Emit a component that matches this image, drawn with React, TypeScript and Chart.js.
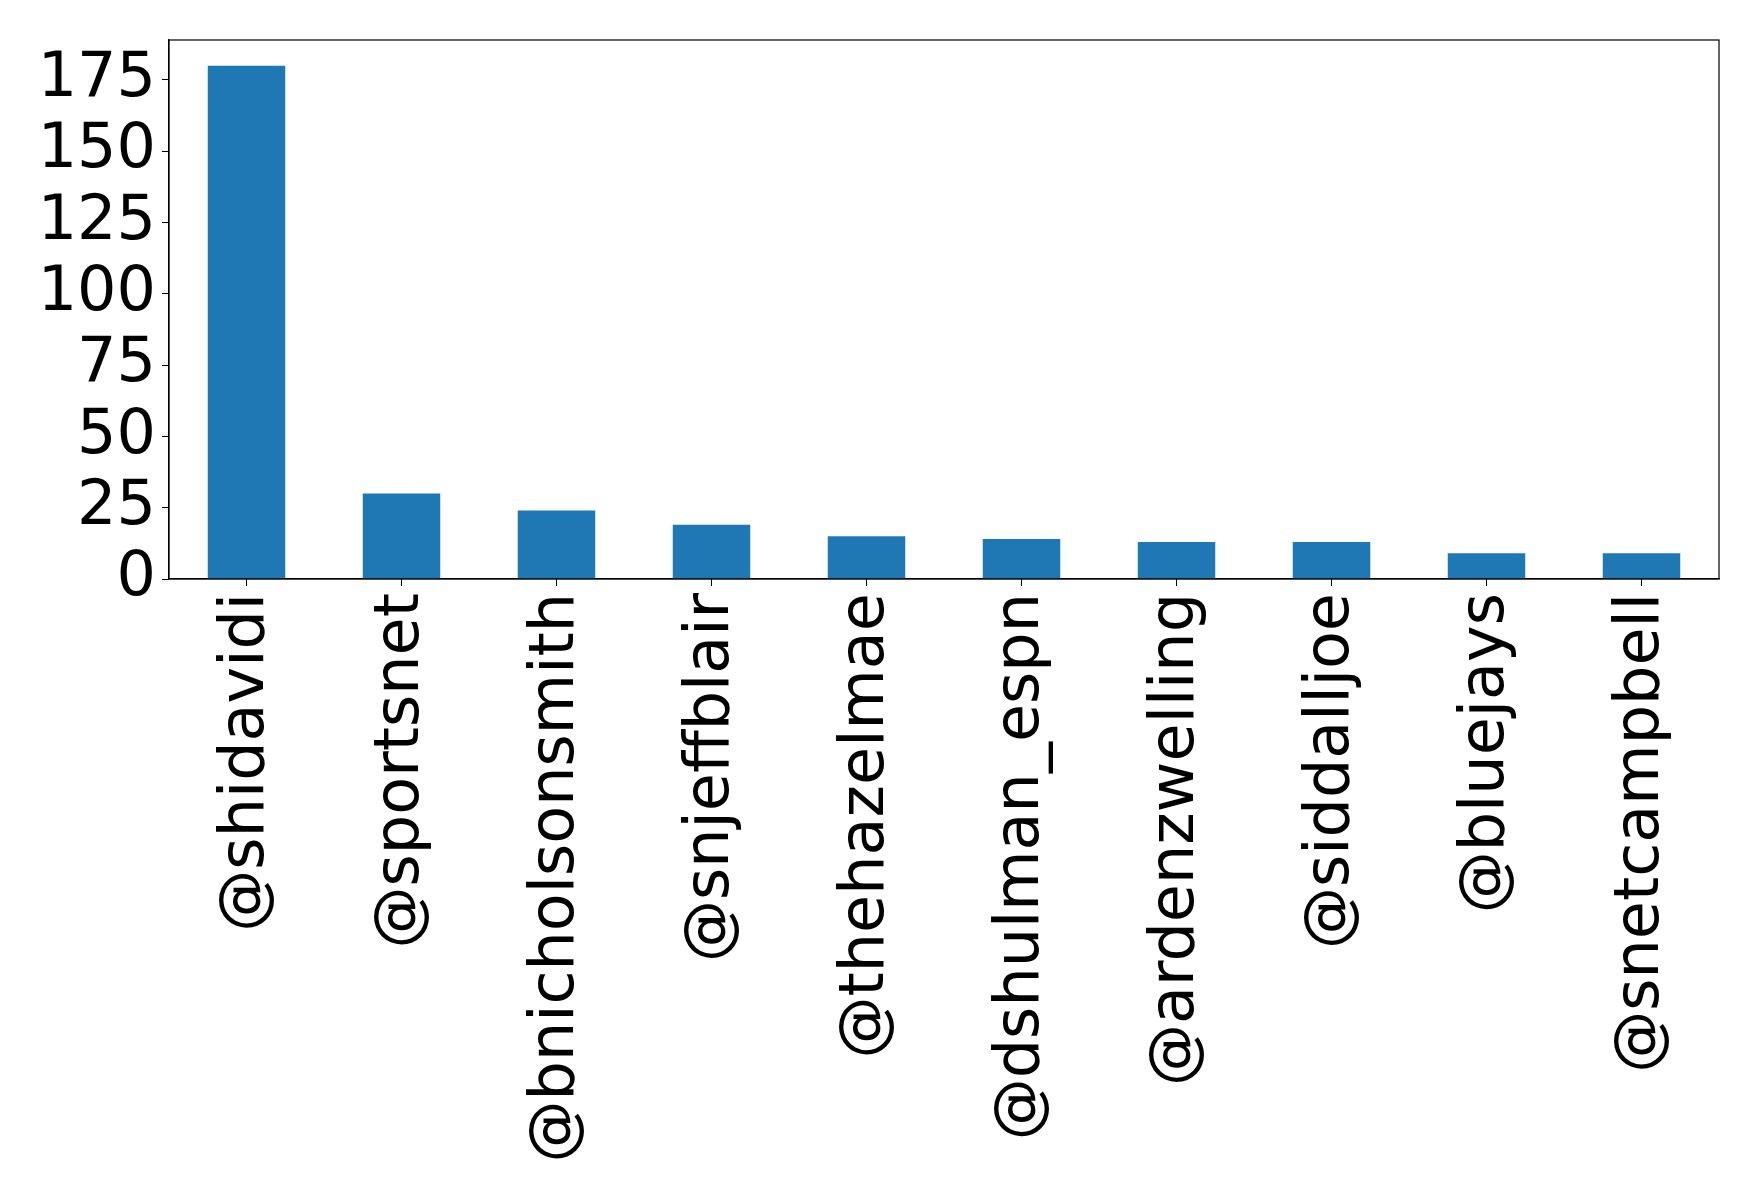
import React, { useEffect, useRef } from "react";
import { Chart, registerables } from "chart.js";

Chart.register(...registerables);

const handles = [
  "@shidavidi",
  "@sportsnet",
  "@bnicholsonsmith",
  "@snjeffblair",
  "@thehazelmae",
  "@dshulman_espn",
  "@ardenzwelling",
  "@siddalljoe",
  "@bluejays",
  "@snetcampbell",
];

const mentionCounts = [180, 30, 24, 19, 15, 14, 13, 13, 9, 9];

const yTicks = [0, 25, 50, 75, 100, 125, 150, 175];

const W = 1758;
const H = 1202;
const FONT = { family: "'DejaVu Sans', sans-serif", size: 62 };

// Draws the full box around the plot area.
const frame = {
  id: "frame",
  afterDraw(chart: any) {
    const { ctx, chartArea } = chart;
    ctx.save();
    ctx.strokeStyle = "#000";
    ctx.lineWidth = 1.2;
    ctx.strokeRect(chartArea.left, chartArea.top, chartArea.right - chartArea.left, chartArea.bottom - chartArea.top);
    ctx.restore();
  },
};

export default function App() {
  const ref = useRef<HTMLCanvasElement>(null);

  useEffect(() => {
    document.body.style.margin = "0";
    const chart = new Chart(ref.current!, {
      type: "bar",
      data: {
        labels: handles,
        datasets: [
          {
            data: mentionCounts,
            backgroundColor: "#1f77b4",
            barPercentage: 0.5,
            categoryPercentage: 1,
          },
        ],
      },
      options: {
        responsive: false,
        animation: false,
        layout: { padding: { top: 40, right: 39, left: 0, bottom: 0 } },
        plugins: { legend: { display: false }, tooltip: { enabled: false } },
        scales: {
          x: {
            grid: { display: true, offset: false, drawOnChartArea: false, drawTicks: true, tickLength: 7, color: "#000" },
            border: { display: true, color: "#000", width: 1.2 },
            ticks: { color: "#000", font: FONT, minRotation: 90, maxRotation: 90, padding: 7, autoSkip: false },
            afterFit(scale: any) {
              scale.height = H - 579;
              scale.paddingLeft = 0;
              scale.paddingRight = 0;
            },
          },
          y: {
            min: 0,
            max: 189,
            afterBuildTicks(scale: any) {
              scale.ticks = yTicks.map((v) => ({ value: v }));
            },
            grid: { display: true, drawOnChartArea: false, drawTicks: true, tickLength: 7, color: "#000" },
            border: { display: true, color: "#000", width: 1.2 },
            ticks: { color: "#000", font: FONT, padding: 6, autoSkip: false },
            afterFit(scale: any) {
              scale.width = 169;
              scale.paddingTop = 0;
              scale.paddingBottom = 0;
            },
          },
        },
      },
      plugins: [frame],
    });
    return () => chart.destroy();
  }, []);

  return (
    <div style={{ width: W, height: H, background: "#fff" }}>
      <canvas ref={ref} width={W} height={H} style={{ display: "block" }} />
    </div>
  );
}
